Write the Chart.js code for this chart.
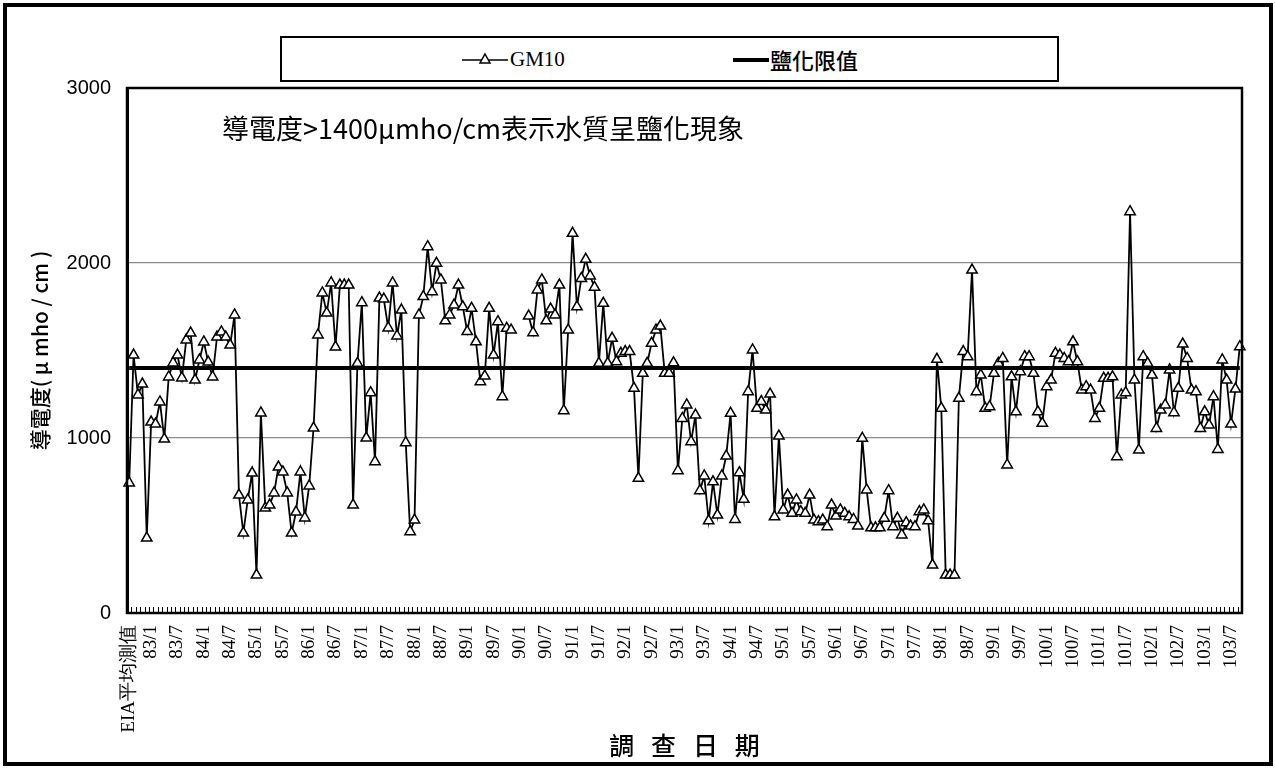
<!DOCTYPE html>
<html lang="zh-Hant">
<head>
<meta charset="utf-8">
<title>GM10 導電度</title>
<script src="https://cdn.jsdelivr.net/npm/chart.js@4.4.1/dist/chart.umd.min.js"></script>
<style>
  html, body { margin: 0; padding: 0; background: #fff; }
  #page { position: relative; width: 1275px; height: 768px; overflow: hidden; }
  #frame { position: absolute; left: 3px; top: 3px; width: 1262px; height: 755px; border: 4px solid #000; }
  #chart { position: absolute; left: 0; top: 0; }
  .legend { position: absolute; left: 280px; top: 36px; width: 775px; height: 42px; border: 2px solid #000; background: #fff; }
  .legend svg { position: absolute; top: 0; }
  .legend span { position: absolute; top: 9px; line-height: 24px; color: #000; }
  .lg-gm { left: 228px; font: 21px 'Liberation Serif', serif; }
  .lg-limit { left: 488px; font: 500 22px 'Noto Sans CJK TC', sans-serif; }
  .note { position: absolute; left: 222px; top: 113px; font: 27px 'Noto Sans CJK TC', sans-serif; line-height: 30px; color: #000; white-space: nowrap; }
</style>
</head>
<body>
<div id="page">
  <div id="frame"></div>
  <canvas id="chart" width="1275" height="768"></canvas>
  <div class="legend">
    <svg style="left:178px" width="50" height="42"><line x1="2" y1="22" x2="48" y2="22" stroke="#000" stroke-width="1.5"/><polygon points="25,16 30,25 20,25" fill="#fff" stroke="#000" stroke-width="1.5"/></svg>
    <span class="lg-gm">GM10</span>
    <svg style="left:451px" width="36" height="42"><line x1="0" y1="22" x2="36" y2="22" stroke="#000" stroke-width="4"/></svg>
    <span class="lg-limit">鹽化限值</span>
  </div>
  <div class="note">導電度&gt;1400μmho/cm表示水質呈鹽化現象</div>
</div>
<script>
// first category is the EIA baseline, then monthly surveys from 82/9
const firstLabel = 'EIA平均測值'
const startYear = 82
const startMonth = 9
const monthCount = 253

const tickLabels = [
  'EIA平均測值', '83/1', '83/7', '84/1', '84/7', '85/1', '85/7', '86/1', '86/7', '87/1', '87/7',
  '88/1', '88/7', '89/1', '89/7', '90/1', '90/7', '91/1', '91/7', '92/1', '92/7', '93/1', '93/7',
  '94/1', '94/7', '95/1', '95/7', '96/1', '96/7', '97/1', '97/7', '98/1', '98/7', '99/1', '99/7',
  '100/1', '100/7', '101/1', '101/7', '102/1', '102/7', '103/1', '103/7',
]

// GM10 conductivity (μmho/cm)
const gm10 = [
  743, 1474, 1246, 1308, 428, 1091, 1080, 1206, 994, 1349,
  1429, 1474, 1343, 1560, 1600, 1331, 1446, 1549, 1434, 1349,
  1577, 1606, 1577, 1531, 1703, 674, 457, 646, 800, 217,
  1143, 600, 617, 686, 834, 806, 686, 457, 577, 806,
  543, 726, 1057, 1589, 1829, 1714, 1886, 1520, 1874, 1874,
  1874, 617, 1427, 1773, 1000, 1259, 865, 1800, 1794, 1629,
  1886, 1583, 1731, 973, 465, 531, 1703, 1808, 2093, 1836,
  1998, 1903, 1670, 1703, 1760, 1874, 1750, 1608, 1741, 1550,
  1322, 1354, 1741, 1474, 1665, 1236, 1627, 1617, null, null,
  null, 1697, 1602, 1846, 1903, 1670, 1737, 1703, 1874, 1156,
  1617, 2170, 1750, 1912, 2021, 1926, 1861, 1427, 1770, 1427,
  1570, 1436, 1484, 1494, 1494, 1284, 770, 1370, 1427, 1541,
  1617, 1640, 1370, 1370, 1430, 813, 1112, 1189, 979, 1131,
  699, 783, 527, 750, 560, 783, 897, 1141, 535, 802,
  650, 1265, 1503, 1170, 1208, 1160, 1251, 550, 1011, 589,
  674, 570, 646, 579, 570, 674, 531, 522, 531, 493,
  617, 554, 589, 570, 550, 535, 497, 998, 703, 487,
  487, 487, 541, 699, 493, 541, 446, 516, 497, 493,
  579, 589, 527, 274, 1450, 1170, 217, 217, 217, 1227,
  1494, 1465, 1960, 1265, 1360, 1170, 1179, 1370, 1427, 1455,
  846, 1350, 1150, 1379, 1465, 1465, 1370, 1150, 1084, 1293,
  1331, 1484, 1474, 1455, 1436, 1550, 1436, 1274, 1293, 1274,
  1112, 1170, 1341, 1341, 1350, 893, 1246, 1259, 2293, 1331,
  931, 1465, 1427, 1360, 1055, 1160, 1189, 1389, 1145, 1284,
  1537, 1455, 1274, 1265, 1055, 1150, 1074, 1236, 935, 1446,
  1331, 1080, 1280, 1522,
]

const salinityLimit = 1400
const yTicks = [0, 1000, 2000, 3000]

const categories = [firstLabel]
for (let i = 0; i < monthCount; i++) {
  const m = startMonth - 1 + i
  categories.push(`${startYear + Math.floor(m / 12)}/${(m % 12) + 1}`)
}

// small inward tick marks between categories, like the original axis
const innerTicks = {
  id: 'innerTicks',
  afterDatasetsDraw(chart) {
    const { ctx, chartArea, scales } = chart
    const x = scales.x
    const half = (x.getPixelForValue(1) - x.getPixelForValue(0)) / 2
    ctx.save()
    ctx.strokeStyle = '#000'
    ctx.lineWidth = 1
    ctx.beginPath()
    for (let i = 0; i <= categories.length; i++) {
      const px = Math.round(x.getPixelForValue(i) - half) + 0.5
      ctx.moveTo(px, chartArea.bottom)
      ctx.lineTo(px, chartArea.bottom - 6)
    }
    ctx.stroke()
    ctx.lineWidth = 2.5
    ctx.strokeRect(chartArea.left, chartArea.top, chartArea.right - chartArea.left, chartArea.bottom - chartArea.top)
    ctx.restore()
  },
}

const ctx = document.getElementById('chart').getContext('2d')
new Chart(ctx, {
  type: 'line',
  data: {
    labels: categories,
    datasets: [
      {
        label: 'GM10',
        data: gm10,
        borderColor: '#000',
        borderWidth: 1.8,
        backgroundColor: '#fff',
        pointStyle: 'triangle',
        pointRadius: 6,
        pointBorderWidth: 1.5,
        pointBorderColor: '#000',
        pointBackgroundColor: '#fff',
        spanGaps: false,
        tension: 0,
        order: 1,
      },
      {
        label: '鹽化限值',
        data: categories.map(() => salinityLimit),
        borderColor: '#000',
        borderWidth: 4,
        pointRadius: 0,
        tension: 0,
        order: 0,
      },
    ],
  },
  options: {
    responsive: false,
    animation: false,
    events: [],
    layout: { padding: { top: 88, right: 33, left: 0, bottom: 0 } },
    scales: {
      x: {
        offset: true,
        afterFit(scale) { scale.height = 155 },
        grid: { display: true, drawOnChartArea: false, drawTicks: false, offset: true },
        border: { display: true, color: '#000', width: 2 },
        ticks: {
          autoSkip: false,
          minRotation: 90,
          maxRotation: 90,
          padding: 12,
          color: '#000',
          font: { family: "'Liberation Serif', serif", size: 19 },
          callback(value, index) {
            const label = categories[index]
            return tickLabels.includes(label) ? label : ''
          },
        },
        title: {
          display: true,
          text: '調   查   日   期',
          color: '#000',
          font: { family: "'Noto Sans CJK TC', sans-serif", size: 25, weight: '500' },
          padding: { top: 0, bottom: 8 },
        },
      },
      y: {
        min: 0,
        max: 3000,
        afterFit(scale) { scale.width = 127 },
        afterBuildTicks(scale) { scale.ticks = yTicks.map((v) => ({ value: v })) },
        grid: {
          drawTicks: false,
          color: (c) => (c.tick && c.tick.value > 0 && c.tick.value < 3000 ? '#8a8a8a' : 'rgba(0,0,0,0)'),
          lineWidth: 1.2,
        },
        border: { display: true, color: '#000', width: 3 },
        ticks: {
          padding: 16,
          color: '#000',
          font: { family: "'Liberation Sans', sans-serif", size: 20 },
          callback: (value) => String(value),
        },
        title: {
          display: true,
          text: '導電度( μ mho / cm )',
          color: '#000',
          font: { family: "'Noto Sans CJK TC', sans-serif", size: 21, weight: '500' },
          padding: { top: 27, bottom: 0 },
        },
      },
    },
    plugins: {
      legend: { display: false },
      tooltip: { enabled: false },
    },
  },
  plugins: [innerTicks],
})
</script>
</body>
</html>
